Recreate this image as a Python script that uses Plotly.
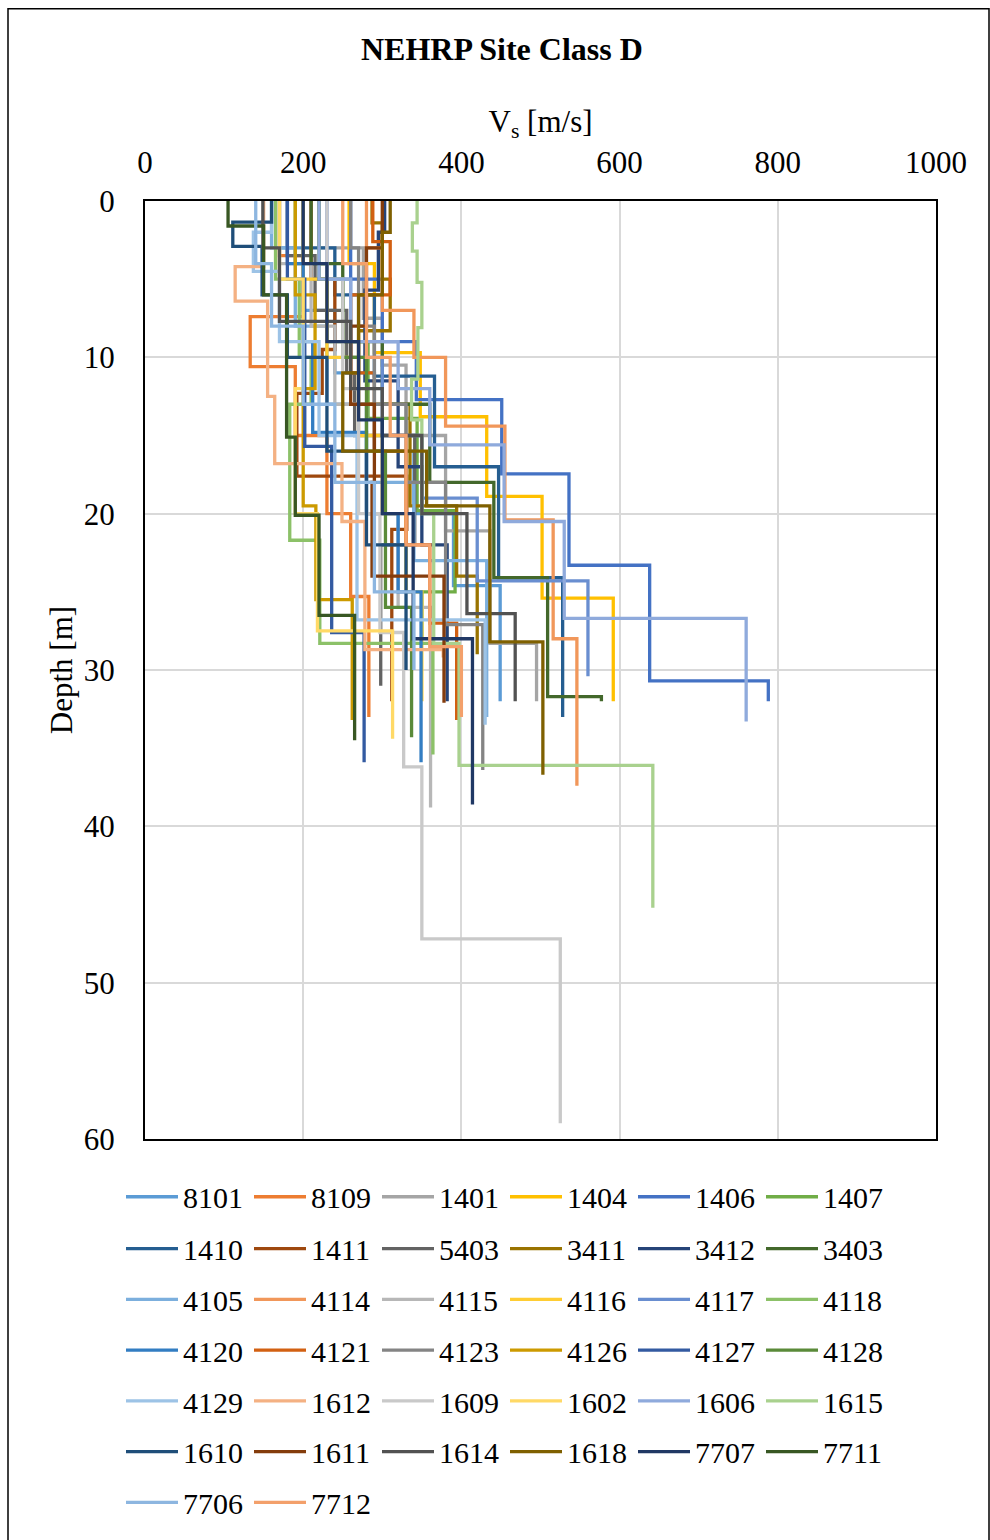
import plotly.graph_objects as go

# Shear-wave velocity profiles (Vs per layer in m/s, layer bottom depth in m)
v_8101 = [170, 200, 240, 290, 340, 390, 449]
z_8101 = [3, 7, 11, 16, 20, 24.6, 32]
v_8109 = [170, 200, 133, 190, 230, 260, 283]
z_8109 = [3.5, 7.4, 10.6, 15, 20, 25.3, 33]
v_1401 = [220, 276, 300, 330, 380, 436, 495]
z_1401 = [3, 7.5, 10.5, 15, 21.1, 28.3, 32]
v_1404 = [258, 290, 348, 432, 502, 592]
z_1404 = [4, 9.7, 13.8, 18.9, 25.4, 32]
v_1406 = [260, 300, 343, 451, 536, 638, 788]
z_1406 = [5, 9, 12.7, 17.45, 23.3, 30.7, 32]
v_1407 = [190, 230, 282, 344, 392, 350]
z_1407 = [4, 9, 13.9, 19.8, 25, 28]
v_1410 = [200, 240, 290, 366, 447, 528]
z_1410 = [3, 6, 11.2, 17, 24.1, 33]
v_1411 = [210, 240, 224, 192, 331, 312]
z_1411 = [5, 9.5, 12.3, 17.6, 21, 32]
v_5403 = [180, 215, 255, 265, 341, 298]
z_5403 = [3.5, 7, 11, 15, 22, 31]
v_3411 = [287, 300, 310, 270, 335, 394, 420]
z_3411 = [1.4, 5, 8.3, 13, 19.5, 24, 29]
v_3412 = [303, 295, 278, 320, 350, 382]
z_3412 = [2, 5.7, 11.5, 17, 22, 32]
v_3403 = [210, 250, 300, 360, 441, 509, 577]
z_3403 = [4, 9, 13, 18, 24.1, 31.7, 32]
v_4105 = [160, 190, 230, 280, 340, 432]
z_4105 = [3, 8, 13, 18, 23, 33]
v_4114 = [280, 300, 340, 380, 455, 516, 546]
z_4114 = [3, 7, 10, 14.4, 20.4, 28, 37.4]
v_4115 = [170, 210, 240, 280, 320, 361]
z_4115 = [4, 8, 13, 20, 26, 38.8]
v_4116 = [200, 230, 270, 300, 330, 350]
z_4116 = [5, 10, 15, 20, 25, 32]
v_4117 = [230, 260, 300, 350, 420, 560]
z_4117 = [5, 10, 15, 19, 24.3, 30.4]
v_4118 = [165, 195, 210, 183, 221, 364]
z_4118 = [5, 10, 13, 21.7, 28.3, 35.4]
v_4120 = [180, 200, 212, 280, 320, 349]
z_4120 = [4, 9, 14.8, 20, 25, 35.9]
v_4121 = [288, 310, 260, 290, 330, 360, 394]
z_4121 = [2.6, 6, 11, 16, 22, 27, 33.2]
v_4123 = [260, 270, 290, 330, 380, 427]
z_4123 = [3, 8, 13, 18, 27.1, 36.4]
v_4126 = [190, 215, 200, 216, 262]
z_4126 = [6, 12, 19.5, 25.5, 33.2]
v_4127 = [180, 202, 236, 277]
z_4127 = [5, 15.7, 27.6, 35.9]
v_4128 = [220, 250, 280, 304, 337]
z_4128 = [5, 10, 16, 26, 34.3]
v_4129 = [160, 137, 170, 220, 268, 430]
z_4129 = [2, 4.5, 9, 15, 26.8, 33.5]
v_1612 = [150, 114, 155, 164, 249, 278, 377]
z_1612 = [4.2, 6.4, 12.5, 16.8, 20.5, 28.7, 29.2]
v_1609 = [230, 250, 270, 297, 327, 350, 525]
z_1609 = [5, 12, 20, 27.6, 36.2, 47.2, 59]
v_1602 = [170, 200, 190, 218, 313]
z_1602 = [5, 12, 20, 27.5, 34.4]
v_1606 = [220, 260, 320, 360, 454, 530, 760]
z_1606 = [5, 9, 12, 15.6, 20.5, 26.7, 33.3]
v_1615 = [344, 338, 344, 350, 345, 337, 350, 365, 397, 642]
z_1615 = [1.4, 3.2, 5.2, 8.1, 11.4, 14, 20, 28.3, 36.1, 45.2]
v_1610 = [160, 111, 148, 180, 230, 280, 330]
z_1610 = [1.35, 2.9, 6, 10, 16, 22, 30]
v_1611 = [300, 280, 260, 290, 287, 378]
z_1611 = [3, 8, 13, 18, 24, 32.1]
v_1614 = [149, 170, 260, 300, 350, 407, 468]
z_1614 = [3, 7.7, 12, 15, 20, 26.4, 32]
v_1618 = [310, 300, 270, 250, 356, 436, 503]
z_1618 = [2, 6, 11, 16, 19.5, 28.2, 36.7]
v_7707 = [200, 230, 270, 300, 339, 414]
z_7707 = [4, 9, 14, 20, 28, 38.6]
v_7711 = [105, 150, 179, 190, 220, 265]
z_7711 = [1.6, 6, 15.1, 20.1, 26.5, 34.5]
v_7706 = [140, 160, 200, 240, 290, 340]
z_7706 = [4, 8, 13, 18, 25, 30]
v_7712 = [250, 280, 310, 330, 360, 400]
z_7712 = [4, 10, 15, 22, 28.5, 33]

stations = ["8101", "8109", "1401", "1404", "1406", "1407",
            "1410", "1411", "5403", "3411", "3412", "3403",
            "4105", "4114", "4115", "4116", "4117", "4118",
            "4120", "4121", "4123", "4126", "4127", "4128",
            "4129", "1612", "1609", "1602", "1606", "1615",
            "1610", "1611", "1614", "1618", "7707", "7711",
            "7706", "7712"]

colors = ["#5B9BD5", "#ED7D31", "#A5A5A5", "#FFC000", "#4472C4", "#70AD47",
          "#255E91", "#9E480E", "#636363", "#997300", "#264478", "#43682B",
          "#7CAFDD", "#F1975A", "#B7B7B7", "#FFCD33", "#698ED0", "#8CC168",
          "#327DC2", "#D26012", "#848484", "#CC9A00", "#335AA1", "#5A8A39",
          "#9DC3E6", "#F4B183", "#C9C9C9", "#FFD966", "#8FAADC", "#A9D18E",
          "#1F4E79", "#843C0C", "#525252", "#7F6000", "#203864", "#385723",
          "#8DB6E0", "#F3A06B"]

profiles = {name: (globals()["v_" + name], globals()["z_" + name]) for name in stations}

# Plot area geometry (pixels)
W, H = 990, 1540
L, R, T, B = 145, 936, 201, 1143
PW, PH = R - L, B - T


def px(xp):
    return (xp - L) / PW


def py(yp):
    return (B - yp) / PH


FONT = "Liberation Serif"
N_COLS = 6

fig = go.Figure()
for i, name in enumerate(stations):
    vs, zb = profiles[name]
    xs = list(vs) + [vs[-1]]
    ys = [0] + list(zb)
    row = i // N_COLS
    fig.add_trace(go.Scatter(
        x=xs, y=ys, mode="lines", name=name,
        line=dict(color=colors[i], width=3.3, shape="vh"),
        legend="legend" if row == 0 else f"legend{row + 1}",
    ))

# One horizontal legend per row of entries
row_y = [1201, 1253, 1304, 1355, 1406, 1457, 1508]
legend_cfg = {}
for r, yc in enumerate(row_y):
    key = "legend" if r == 0 else f"legend{r + 1}"
    legend_cfg[key] = dict(
        orientation="h", x=px(121), xanchor="left", y=py(yc), yanchor="middle",
        font=dict(family=FONT, size=30, color="#000000"),
        bgcolor="rgba(0,0,0,0)", entrywidth=61, entrywidthmode="pixels",
        itemwidth=52, tracegroupgap=0,
    )

fig.update_layout(
    width=W, height=H,
    margin=dict(l=L, r=W - R, t=T, b=H - B),
    plot_bgcolor="white", paper_bgcolor="white",
    font=dict(family=FONT, size=31, color="#000000"),
    showlegend=True,
    **legend_cfg,
)

fig.update_xaxes(
    side="top", range=[0, 1000], dtick=200, tick0=0,
    showgrid=True, gridcolor="#D9D9D9", gridwidth=1.5,
    showline=True, linecolor="#000000", linewidth=2, mirror=True,
    ticks="", ticklabelstandoff=14, zeroline=False,
    tickfont=dict(family=FONT, size=31),
    title=dict(text="V<sub>s</sub> [m/s]", font=dict(family=FONT, size=31), standoff=3),
)
fig.update_yaxes(
    range=[60, 0], dtick=10, tick0=0,
    showgrid=True, gridcolor="#D9D9D9", gridwidth=1.5,
    showline=True, linecolor="#000000", linewidth=2, mirror=True,
    ticks="", ticklabelstandoff=22, zeroline=False,
    tickfont=dict(family=FONT, size=31),
    title=dict(text="Depth [m]", font=dict(family=FONT, size=31), standoff=2),
)

fig.add_annotation(
    text="<b>NEHRP Site Class D</b>", xref="paper", yref="paper",
    x=px(502), y=py(48), xanchor="center", yanchor="middle",
    showarrow=False, font=dict(family=FONT, size=32, color="#000000"),
)

# Chart frame
fig.add_shape(
    type="rect", xref="paper", yref="paper",
    x0=px(8), x1=px(989), y0=py(8), y1=py(1560),
    line=dict(color="#000000", width=1.5), fillcolor="rgba(0,0,0,0)", layer="below",
)

fig.write_html("out.html")
